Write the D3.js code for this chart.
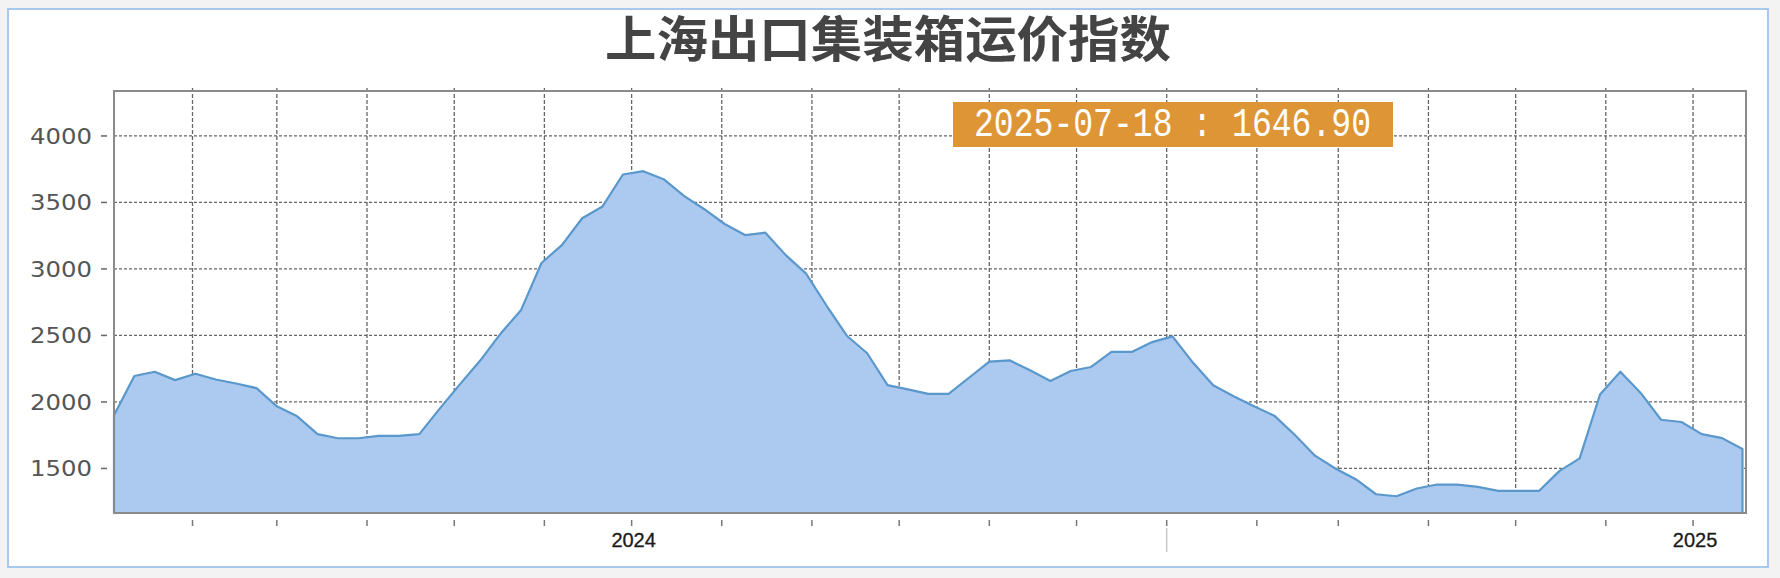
<!DOCTYPE html>
<html>
<head>
<meta charset="utf-8">
<script src="https://cdn.jsdelivr.net/npm/d3@7/dist/d3.min.js"></script>
<style>
html,body{margin:0;padding:0;background:#f3f3f3;}
svg{display:block;}
</style>
</head>
<body>
<svg id="chart" width="1780" height="578"></svg>
<script>
const title = "上海出口集装箱运价指数";
const dates = [
"2024-01-05","2024-01-12","2024-01-19","2024-01-26","2024-02-02","2024-02-09","2024-02-16","2024-02-23",
"2024-03-01","2024-03-08","2024-03-15","2024-03-22","2024-03-29","2024-04-05","2024-04-12","2024-04-19",
"2024-04-26","2024-05-03","2024-05-10","2024-05-17","2024-05-24","2024-05-31","2024-06-07","2024-06-14",
"2024-06-21","2024-06-28","2024-07-05","2024-07-12","2024-07-19","2024-07-26","2024-08-02","2024-08-09",
"2024-08-16","2024-08-23","2024-08-30","2024-09-06","2024-09-13","2024-09-20","2024-09-27","2024-10-04",
"2024-10-11","2024-10-18","2024-10-25","2024-11-01","2024-11-08","2024-11-15","2024-11-22","2024-11-29",
"2024-12-06","2024-12-13","2024-12-20","2024-12-27","2025-01-03","2025-01-10","2025-01-17","2025-01-24",
"2025-01-31","2025-02-07","2025-02-14","2025-02-21","2025-02-28","2025-03-07","2025-03-14","2025-03-21",
"2025-03-28","2025-04-04","2025-04-11","2025-04-18","2025-04-25","2025-05-02","2025-05-09","2025-05-16",
"2025-05-23","2025-05-30","2025-06-06","2025-06-13","2025-06-20","2025-06-27","2025-07-04","2025-07-11",
"2025-07-18"];
const values = [
1900,2195,2227,2164,2212,2169,2139,2104,
1967,1892,1758,1727,1727,1745,1745,1758,
1950,2134,2313,2515,2692,3045,3179,3381,
3470,3710,3735,3675,3550,3449,3338,3255,
3273,3104,2965,2725,2498,2366,2126,2094,
2061,2061,2182,2303,2313,2238,2157,2233,
2263,2376,2376,2450,2493,2296,2125,2043,
1967,1897,1753,1596,1500,1419,1306,1291,
1349,1379,1379,1361,1331,1331,1331,1480,
1576,2056,2227,2068,1866,1849,1758,1728,
1646.90];
const yTicks = [1500,2000,2500,3000,3500,4000];
const yDomain = [1165,4338];
const xDomain = ["2024-01-05","2025-07-19T05:00"];
const xLabelDates = ["2024-07-01","2025-07-01"];
const xLabels = ["2024","2025"];

const parse = d3.isoParse;
const data = dates.map((d,i)=>({date:parse(d), value:values[i]}));

const svg = d3.select("#chart");
const L=114, R=1746, T=91, B=513;

// outer panel
svg.append("rect").attr("x",8).attr("y",9).attr("width",1760).attr("height",558)
  .attr("fill","#ffffff").attr("stroke","#a9c8f0").attr("stroke-width",2);

const x = d3.scaleTime().domain(xDomain.map(parse)).range([L,R]);
const y = d3.scaleLinear().domain(yDomain).range([B,T]);

// title
svg.append("text").attr("x",888).attr("y",57)
  .attr("text-anchor","middle")
  .attr("font-family","'Noto Sans CJK SC'").attr("font-weight","bold")
  .attr("font-size",49).attr("fill","#444")
  .attr("textLength",566).attr("lengthAdjust","spacingAndGlyphs")
  .text(title);

// grid
const months = d3.timeMonth.range(x.domain()[0], x.domain()[1]);
svg.append("g").selectAll("line").data(yTicks).join("line")
  .attr("x1",L).attr("x2",R).attr("y1",d=>y(d)).attr("y2",d=>y(d))
  .attr("stroke","#666").attr("stroke-width",1.3).attr("stroke-dasharray","3,2");
svg.append("g").selectAll("line").data(months).join("line")
  .attr("x1",d=>x(d)).attr("x2",d=>x(d)).attr("y1",T-3).attr("y2",B)
  .attr("stroke","#666").attr("stroke-width",1.3).attr("stroke-dasharray","4,2");

// area
const area = d3.area().x(d=>x(d.date)).y0(B).y1(d=>y(d.value));
svg.append("path").datum(data).attr("d",area)
  .attr("fill","#acc9f0").attr("stroke","#5a98cc").attr("stroke-width",2.2)
  .attr("stroke-linejoin","round");

// frame
svg.append("rect").attr("x",L).attr("y",T).attr("width",R-L).attr("height",B-T)
  .attr("fill","none").attr("stroke","#8a8a8a").attr("stroke-width",2);

// y axis labels and ticks
const yg = svg.append("g");
yg.selectAll("line").data(yTicks).join("line")
  .attr("x1",101).attr("x2",107).attr("y1",d=>y(d)).attr("y2",d=>y(d))
  .attr("stroke","#666").attr("stroke-width",1.5);
yg.selectAll("text").data(yTicks).join("text")
  .attr("x",92).attr("y",d=>y(d)+8)
  .attr("text-anchor","end").attr("font-family","'DejaVu Sans'")
  .attr("font-size",22).attr("fill","#555")
  .attr("textLength",62).attr("lengthAdjust","spacingAndGlyphs")
  .text(d=>d);

// x ticks
const xg = svg.append("g");
xg.selectAll("line.t").data(months).join("line").attr("class","t")
  .attr("x1",d=>x(d)).attr("x2",d=>x(d)).attr("y1",520).attr("y2",526)
  .attr("stroke","#777").attr("stroke-width",1.5);
xg.selectAll("line.yr").data(months.filter(d=>d.getMonth()===0)).join("line").attr("class","yr")
  .attr("x1",d=>x(d)).attr("x2",d=>x(d)).attr("y1",528).attr("y2",552)
  .attr("stroke","#c8c8c8").attr("stroke-width",1.5);
xg.selectAll("text").data(xLabels).join("text")
  .attr("x",(d,i)=>x(parse(xLabelDates[i]))+2).attr("y",547)
  .attr("text-anchor","middle").attr("font-family","'Liberation Sans'")
  .attr("font-size",20).attr("fill","#1a1a1a").attr("stroke","#1a1a1a").attr("stroke-width",0.3)
  .text(d=>d);

// value label box
const last = data[data.length-1];
const fmt = d3.timeFormat("%Y-%m-%d");
svg.append("rect").attr("x",953).attr("y",102).attr("width",440).attr("height",45)
  .attr("fill","#de9536");
svg.append("text").attr("x",974).attr("y",136)
  .attr("font-family","'Liberation Mono'").attr("font-size",40).attr("fill","#ffffff")
  .attr("textLength",397).attr("lengthAdjust","spacingAndGlyphs")
  .text(fmt(last.date)+" : "+last.value.toFixed(2));
</script>
</body>
</html>
